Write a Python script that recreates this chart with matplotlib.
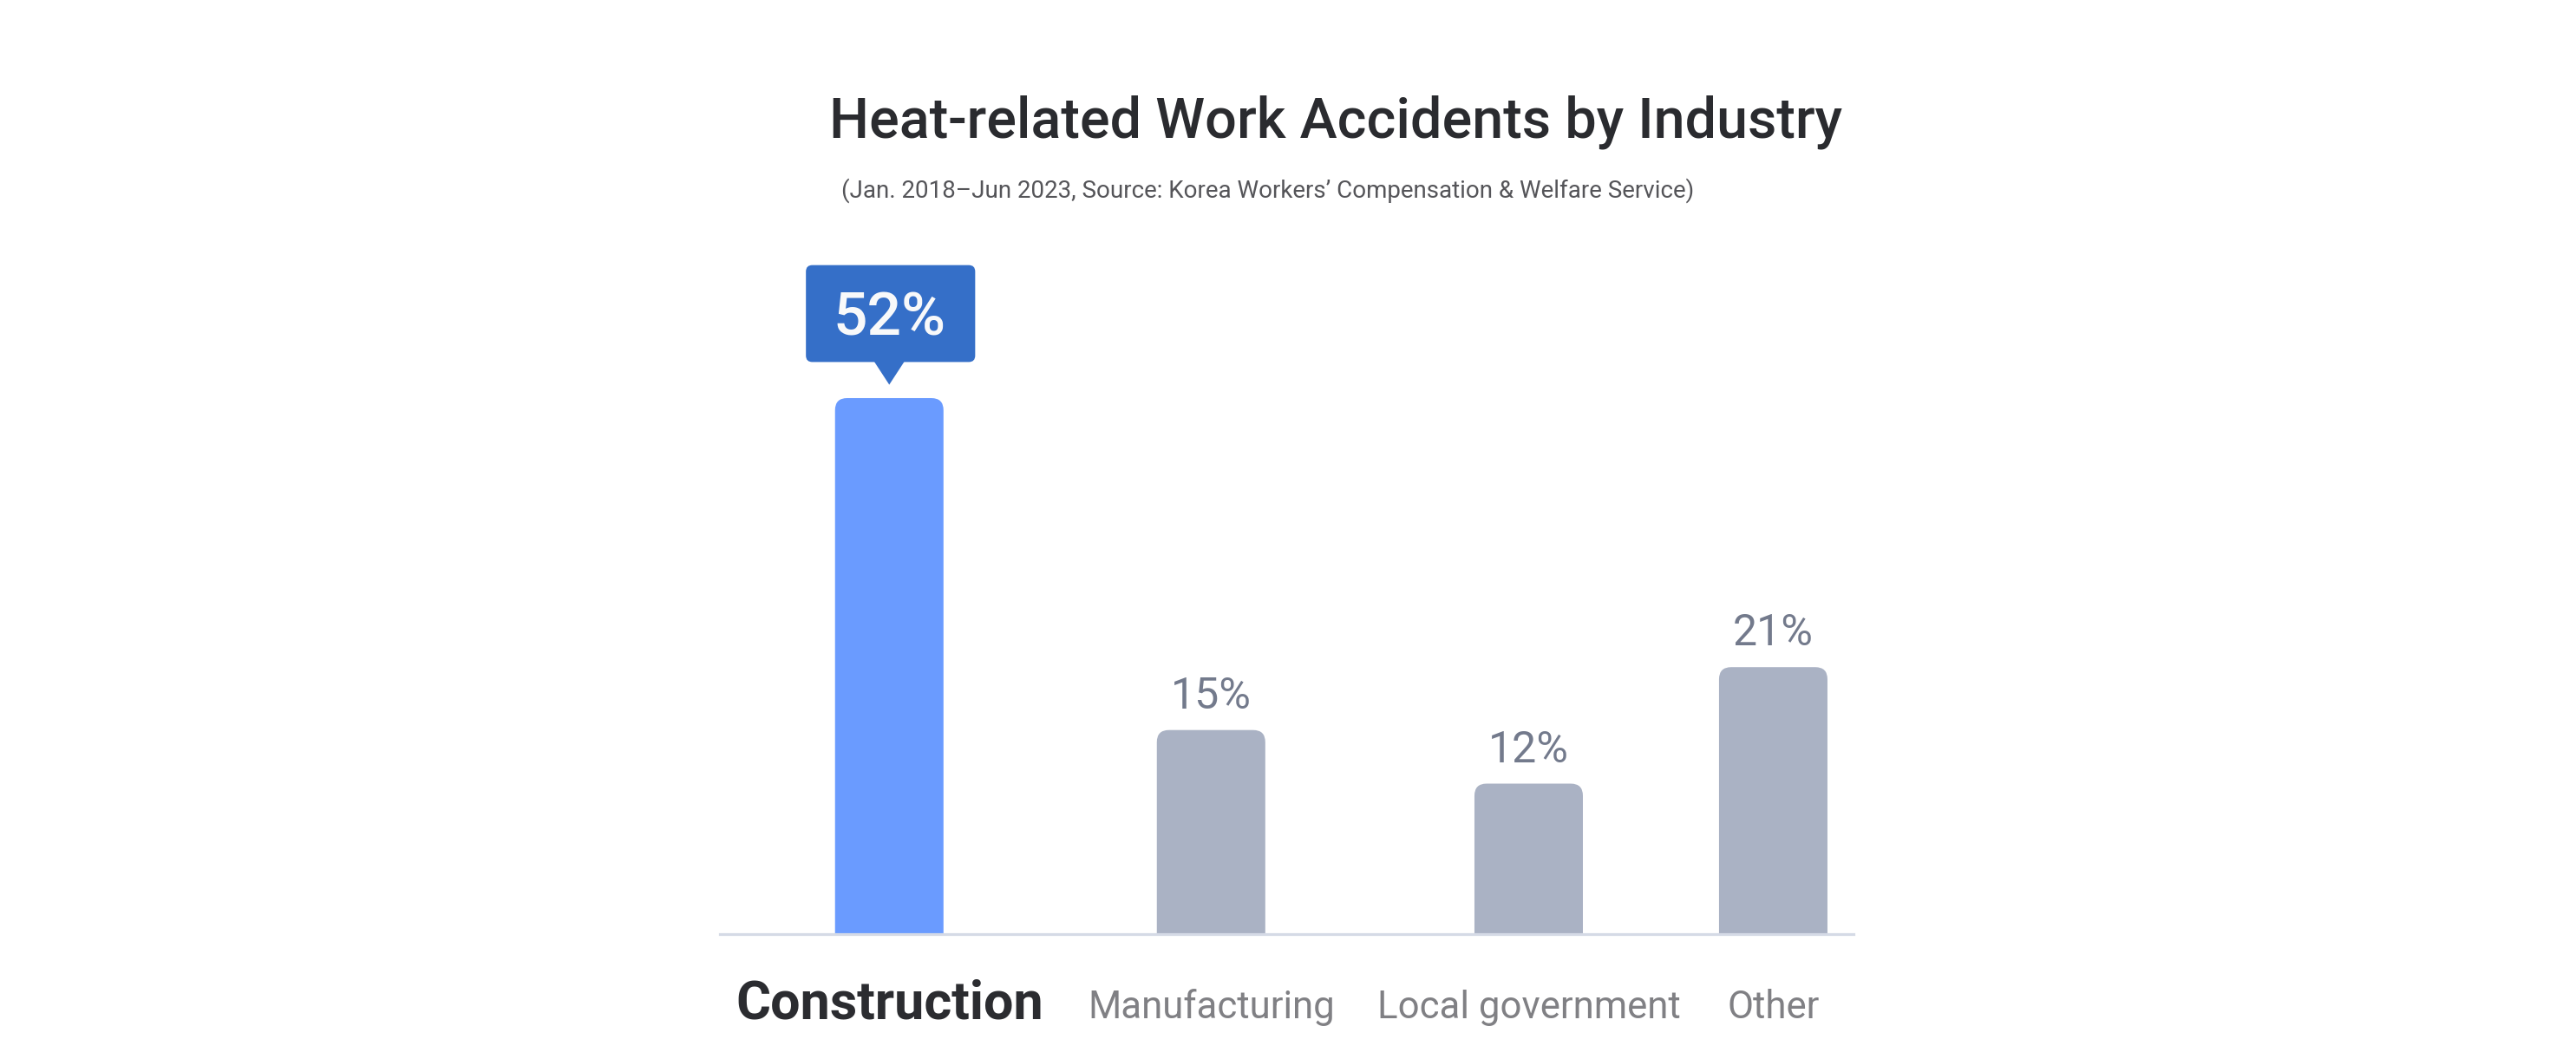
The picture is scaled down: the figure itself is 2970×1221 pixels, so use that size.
import matplotlib
matplotlib.use("Agg")
import matplotlib.pyplot as plt
from matplotlib.patches import FancyBboxPatch, Polygon

# data
categories = ["Construction", "Manufacturing", "Local government", "Other"]
share_labels = ["52%", "15%", "12%", "21%"]
# the infographic bars are not drawn to scale, so heights are read off the image
bar_heights = [52, 19.8, 14.6, 25.9]

title = "Heat-related Work Accidents by Industry"
subtitle = "(Jan. 2018\u2013Jun 2023, Source: Korea Workers\u2019 Compensation & Welfare Service)"

# layout
x_pos = [0, 1, 1.987, 2.747]
bar_w = 0.337
blue = "#6A9BFF"
gray = "#AAB2C4"
callout = "#356FC8"
aspect = 31.2  # y-units per x-unit on screen, keeps corners round

plt.rcParams["font.family"] = ["Roboto", "DejaVu Sans"]

fig = plt.figure(figsize=(29.70, 12.21), dpi=100)
fig.patch.set_facecolor("white")
ax = fig.add_axes([0.2795, 0.1179, 0.4401, 0.6814])
ax.set_xlim(-0.526, 2.997)
ax.set_ylim(0, 70)
ax.axis("off")

bars = ax.bar(x_pos, bar_heights, width=bar_w, color="none")
for i, b in enumerate(bars):
    col = blue if i == 0 else gray
    p = FancyBboxPatch((b.get_x(), -3), b.get_width(), b.get_height() + 3,
                       boxstyle="round,pad=0,rounding_size=0.0377",
                       mutation_aspect=aspect, fc=col, ec="none", zorder=2)
    ax.add_patch(p)

ax.axhline(0, color="#D5DAE6", lw=2.3, zorder=3, clip_on=False)

# highlighted callout on the first bar
top = bar_heights[0]
cx = x_pos[0]
box = FancyBboxPatch((cx - 0.259, top + 3.5), 0.526, 9.4,
                     boxstyle="round,pad=0,rounding_size=0.02",
                     mutation_aspect=aspect, fc=callout, ec="none",
                     zorder=4, clip_on=False)
ax.add_patch(box)
tip = Polygon([[cx - 0.048, top + 3.6], [cx + 0.048, top + 3.6], [cx, top + 1.3]],
              closed=True, fc=callout, ec="none", zorder=4, clip_on=False)
ax.add_patch(tip)
ax.text(cx, top + 6.1, share_labels[0], ha="center", va="baseline",
        fontsize=50, fontweight="medium", color="#F8F9FA", zorder=5)

for i in range(1, len(categories)):
    ax.annotate(share_labels[i], (x_pos[i], bar_heights[i]), xytext=(0, 18),
                textcoords="offset points", ha="center", va="baseline",
                fontsize=36, color="#737A8C")

for i, name in enumerate(categories):
    if i == 0:
        kw = dict(fontsize=44, fontweight="bold", color="#2B2C30")
    else:
        kw = dict(fontsize=31.5, color="#808084")
    ax.annotate(name, (x_pos[i], 0), xytext=(0, -70), textcoords="offset points",
                ha="center", va="baseline", annotation_clip=False, **kw)

fig.text(0.3219, 0.8698, title, ha="left", va="baseline",
         fontsize=46.5, fontweight="medium", color="#2A2B2F")
fig.text(0.3266, 0.8133, subtitle, ha="left", va="baseline",
         fontsize=20, color="#555559")

fig.savefig("out.png", dpi=100, facecolor="white")
